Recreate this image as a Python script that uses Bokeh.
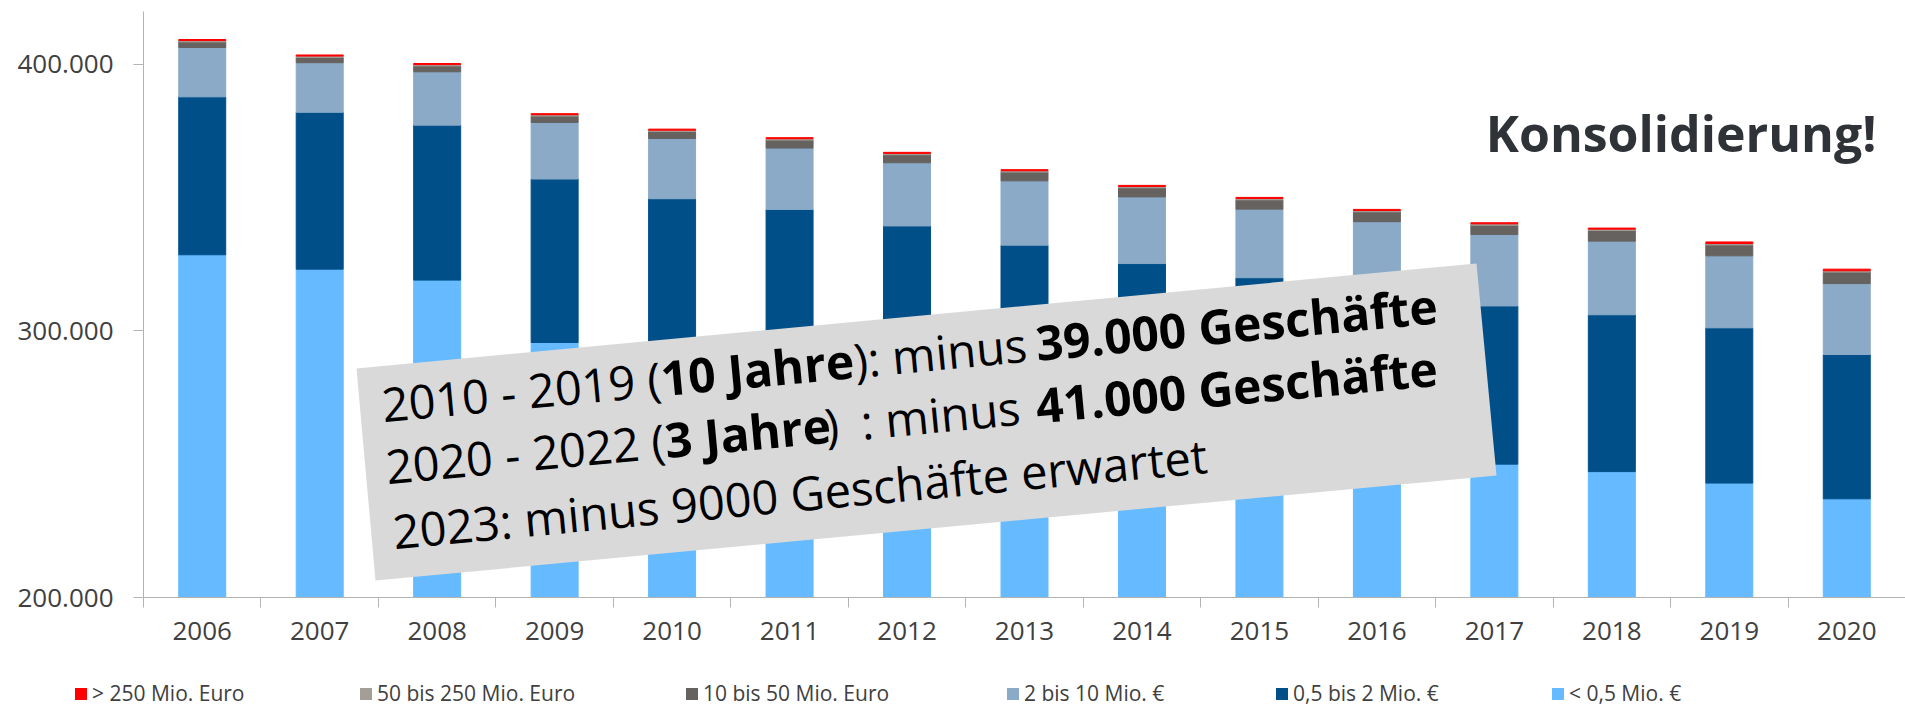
import math
from bokeh.plotting import figure
from bokeh.layouts import column
from bokeh.models import (Range1d, FixedTicker, Legend, LegendItem, Label,
                          PolyAnnotation, ColumnDataSource)
from bokeh.embed import file_html
from bokeh.resources import INLINE

# ---------------- data ----------------
years = ["2006", "2007", "2008", "2009", "2010", "2011", "2012", "2013",
         "2014", "2015", "2016", "2017", "2018", "2019", "2020"]
lt_0_5 = [328500, 323100, 319000, 295600, 291000, 285000, 279000, 272000,
          266000, 261000, 255000, 250000, 247200, 242900, 237000]
from_0_5_to_2 = [59200, 58800, 58100, 61300, 58500, 60500, 60300, 60100,
                 59200, 58900, 59000, 59300, 58800, 58200, 54100]
from_2_to_10 = [18500, 18600, 20000, 21200, 22600, 23000, 23700, 24100,
                25000, 25700, 26900, 26800, 27600, 27000, 26600]
from_10_to_50 = [2100, 2000, 2200, 2400, 2600, 3000, 3000, 3300,
                 3400, 3500, 3700, 3500, 4000, 4100, 4300]
from_50_to_250 = [500, 500, 500, 500, 500, 500, 500, 500,
                  500, 500, 500, 500, 500, 500, 500]
gt_250 = [400, 400, 400, 400, 400, 400, 400, 400,
          400, 400, 400, 400, 400, 600, 600]

series_keys = ["lt05", "s05_2", "s2_10", "s10_50", "s50_250", "gt250"]
series_labels = ["< 0,5 Mio. €", "0,5 bis 2 Mio. €", "2 bis 10 Mio. €",
                 "10 bis 50 Mio. Euro", "50 bis 250 Mio. Euro", "> 250 Mio. Euro"]
series_colors = ["#66BAFF", "#004F88", "#8AAAC7", "#656260", "#A39E96", "#FF0000"]

y_ticks = [200000, 300000, 400000]
y_tick_labels = ["200.000", "300.000", "400.000"]

box_lines = [
    [("2010 - 2019 (", "normal"), ("10 Jahre", "bold"), ("): minus ", "normal"), ("39.000 Geschäfte", "bold")],
    [("2020 - 2022 (", "normal"), ("3 Jahre", "bold"), (")", "normal"), (": minus ", "normal"), ("41.000 Geschäfte", "bold")],
    [("2023: minus 9000 Geschäfte erwartet", "normal")],
]
title_text = "Konsolidierung!"

# ---------------- layout constants (page pixels) ----------------
W = 1905
MAIN_H = 670
LEG_H = 37
FRAME_LEFT = 143
FRAME_TOP = 11
FRAME_BOTTOM = 597
BASELINE_FIX = 0.41   # Bokeh label baseline offset, in em

def sx(px):
    return px - FRAME_LEFT

def sy(py):
    return FRAME_BOTTOM - py

xs = [i + 0.5 for i in range(len(years))]
src = ColumnDataSource(dict(x=xs, lt05=lt_0_5, s05_2=from_0_5_to_2, s2_10=from_2_to_10,
                            s10_50=from_10_to_50, s50_250=from_50_to_250, gt250=gt_250))

p = figure(width=W, height=MAIN_H,
           x_range=Range1d(0, len(years)), y_range=Range1d(200000, 419700),
           output_backend="svg", toolbar_location=None,
           min_border_left=FRAME_LEFT, min_border_right=0, min_border_top=FRAME_TOP,
           min_border_bottom=MAIN_H - FRAME_BOTTOM)
p.xgrid.visible = False
p.ygrid.visible = False
p.outline_line_color = None

renderers = p.vbar_stack(series_keys, x="x", width=0.4, color=series_colors, source=src)

AXIS_COLOR = "#B3B3B3"
LABEL_COLOR = "#404040"

xa = p.xaxis[0]
xa.ticker = FixedTicker(ticks=xs, minor_ticks=list(range(len(years) + 1)))
xa.major_label_overrides = {x: y for x, y in zip(xs, years)}
xa.major_tick_out = 0
xa.major_tick_in = 0
xa.minor_tick_out = 10
xa.minor_tick_in = 0
xa.axis_line_color = AXIS_COLOR
xa.minor_tick_line_color = AXIS_COLOR
xa.major_label_text_font = "Open Sans"
xa.major_label_text_font_size = "26px"
xa.major_label_text_color = LABEL_COLOR
xa.major_label_standoff = 14

ya = p.yaxis[0]
ya.ticker = FixedTicker(ticks=y_ticks, minor_ticks=[])
ya.major_label_overrides = {t: l for t, l in zip(y_ticks, y_tick_labels)}
ya.major_tick_out = 10
ya.major_tick_in = 0
ya.minor_tick_out = 0
ya.minor_tick_in = 0
ya.axis_line_color = AXIS_COLOR
ya.major_tick_line_color = AXIS_COLOR
ya.major_label_text_font = "Open Sans"
ya.major_label_text_font_size = "26px"
ya.major_label_text_color = LABEL_COLOR
ya.major_label_standoff = 20

# ---------------- rotated grey box with text ----------------
box_px = [(356, 368), (1476, 263), (1496, 475), (375, 580)]
p.add_layout(PolyAnnotation(xs=[sx(a) for a, b in box_px], ys=[sy(b) for a, b in box_px],
                            xs_units="screen", ys_units="screen",
                            fill_color="#D9D9D9", fill_alpha=1.0, line_color=None))

theta = math.atan(105 / 1120)
FS = {"normal": 47, "bold": 48}
line_starts = [(383, 423), (387, 485), (394, 550)]
piece_x = [[383, 662, 855, 1037], [387, 666, 826, 862, 1037], [394]]
for (x0, y0), pieces, pxs in zip(line_starts, box_lines, piece_x):
    for (txt, style), px in zip(pieces, pxs):
        fix = BASELINE_FIX * FS[style]
        py = y0 - (px - x0) * math.tan(theta)
        ax = px - math.sin(theta) * fix
        ay = py - math.cos(theta) * fix
        p.add_layout(Label(x=sx(ax), y=sy(ay), x_units="screen", y_units="screen",
                           text=txt, angle=theta, angle_units="rad",
                           text_font="Open Sans", text_font_size=f"{FS[style]}px",
                           text_font_style=style, text_color="black",
                           text_align="left", text_baseline="alphabetic"))

TITLE_FS = 50
p.add_layout(Label(x=sx(1876), y=sy(153 - BASELINE_FIX * TITLE_FS), x_units="screen", y_units="screen",
                   text=title_text, text_font="Open Sans", text_font_size=f"{TITLE_FS}px",
                   text_font_style="bold", text_color="#2F3337",
                   text_align="right", text_baseline="alphabetic"))

# ---------------- legend strip ----------------
lg = figure(width=W, height=LEG_H, x_range=Range1d(0, 1), y_range=Range1d(0, 1),
            output_backend="svg", toolbar_location=None,
            x_axis_type=None, y_axis_type=None,
            min_border_left=0, min_border_right=0, min_border_top=0, min_border_bottom=0)
lg.xgrid.visible = False
lg.ygrid.visible = False
lg.outline_line_color = None

legend_px = [73, 358, 684, 1005, 1274, 1550]   # page x of each legend swatch
order = [5, 4, 3, 2, 1, 0]
for px, idx in zip(legend_px, order):
    # zero-size proxy glyph: only its colour is used by the legend swatch
    r = lg.vbar(x=[0.5], top=[0], bottom=[0], width=0,
                fill_color=series_colors[idx], line_color=None)
    leg = Legend(items=[LegendItem(label=series_labels[idx], renderers=[r])],
                 location=(px, 0), orientation="horizontal",
                 glyph_width=15, glyph_height=15, label_standoff=4,
                 padding=0, margin=0, spacing=0, label_height=15,
                 border_line_color=None, background_fill_alpha=0,
                 label_text_font="Open Sans", label_text_font_size="21px",
                 label_text_color=LABEL_COLOR)
    lg.add_layout(leg)

layout = column(p, column(lg, spacing=0), spacing=0)
open("out.html", "w").write(file_html(layout, INLINE))
